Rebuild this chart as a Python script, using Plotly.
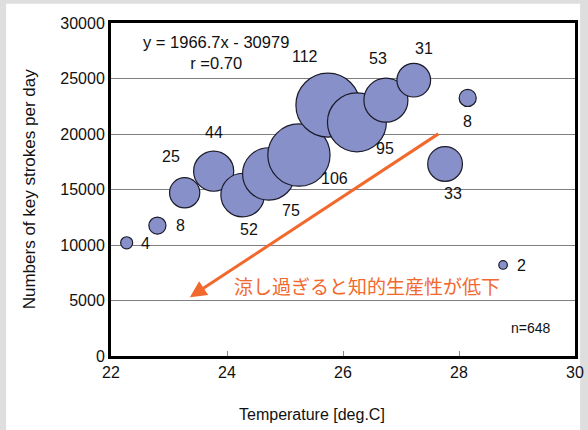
import plotly.graph_objects as go

# ---- data ----
temperature = [22.27, 22.8, 23.27, 23.77, 24.27, 24.72, 25.24, 25.74, 26.24, 26.74, 27.22, 28.15, 27.76, 28.76]
keystrokes = [10200, 11750, 14700, 16650, 14500, 16400, 18100, 22600, 21050, 23050, 24850, 23250, 17300, 8200]
counts = [4, 8, 25, 44, 52, 75, 106, 112, 95, 53, 31, 8, 33, 2]
# label offsets in pixels (styling only)
label_dx = [19, 23, -14, 0, 6, 22, 36, -23, 28, -8, 10, 0, 8, 18]
label_dy = [-1, 0, 36, 39, -34, -37, -23, 49, -26, 42, 32, -24, -30, -1]

x_ticks = [22, 24, 26, 28, 30]
y_ticks = [0, 5000, 10000, 15000, 20000, 25000, 30000]

equation_text = "y = 1966.7x - 30979<br>r =0.70"
note_text = "涼し過ぎると知的生産性が低下"
n_text = "n=648"
x_title = "Temperature [deg.C]"
y_title = "Numbers of key strokes per day"

FONT = "Liberation Sans, Arial, sans-serif"
BUBBLE = "#8790c8"
ORANGE = "#f2692e"

fig = go.Figure()
fig.add_trace(go.Scatter(
    x=temperature, y=keystrokes, mode="markers",
    marker=dict(size=counts, sizemode="area", sizeref=2 * 112 / 64 ** 2,
                color=BUBBLE, opacity=1,
                line=dict(color="#1b1b2a", width=1.2)),
    hoverinfo="x+y+text", text=[str(c) for c in counts], showlegend=False,
))

annotations = []
for x, y, c, dx, dy in zip(temperature, keystrokes, counts, label_dx, label_dy):
    annotations.append(dict(x=x, y=y, xref="x", yref="y", text=str(c), showarrow=False,
                            xshift=dx, yshift=dy, xanchor="center", yanchor="middle",
                            font=dict(family=FONT, size=16, color="#111111")))

annotations += [
    dict(x=0.227, y=0.91, xref="paper", yref="paper", text=equation_text, showarrow=False,
         xanchor="center", yanchor="middle",
         font=dict(family=FONT, size=16.5, color="#111111"), align="center"),
    dict(x=0.552, y=0.213, xref="paper", yref="paper", text=note_text, showarrow=False,
         xanchor="center", yanchor="middle",
         font=dict(family="Noto Sans CJK JP", size=19, color=ORANGE)),
    dict(x=0.906, y=0.083, xref="paper", yref="paper", text=n_text, showarrow=False,
         xanchor="center", yanchor="middle",
         font=dict(family=FONT, size=14, color="#111111")),
    dict(x=23.36, y=5300, ax=27.67, ay=20100, xref="x", yref="y", axref="x", ayref="y",
         text="", showarrow=True, arrowhead=2, arrowsize=1.1, arrowwidth=3, arrowcolor=ORANGE),
    dict(x=0.433, y=-0.177, xref="paper", yref="paper", text=x_title, showarrow=False,
         xanchor="center", yanchor="middle",
         font=dict(family=FONT, size=16, color="#111111")),
    dict(x=-0.175, y=0.5, xref="paper", yref="paper", text=y_title, showarrow=False,
         xanchor="center", yanchor="middle",
         textangle=-90, font=dict(family=FONT, size=17, color="#111111")),
]

fig.update_layout(
    width=588, height=430,
    margin=dict(l=111, r=13, t=23, b=74),
    paper_bgcolor="#dedede", plot_bgcolor="white",
    font=dict(family=FONT, color="#111111"),
    annotations=annotations,
    shapes=[dict(type="rect", xref="paper", yref="paper", x0=-0.226, x1=1.011, y0=-0.25, y1=1.058,
                 fillcolor="white", line=dict(width=0), layer="below")],
    xaxis=dict(range=[22, 30], tickvals=x_ticks, ticktext=[str(t) for t in x_ticks],
               automargin=False,
               showgrid=False, zeroline=False, showline=True, linecolor="black", linewidth=3,
               mirror=True, ticks="inside", ticklen=5, tickcolor="#888888",
               tickfont=dict(size=16, family=FONT)),
    yaxis=dict(range=[0, 30000], tickvals=y_ticks, ticktext=[str(t) for t in y_ticks],
               automargin=False,
               showgrid=True, gridcolor="#7f7f7f", gridwidth=1, zeroline=False,
               showline=True, linecolor="black", linewidth=3, mirror=True, ticks="",
               tickfont=dict(size=16, family=FONT)),
)

fig.write_html("out.html", config={"displayModeBar": False},
               post_script="document.body.style.margin='0';document.body.style.overflow='hidden';")
